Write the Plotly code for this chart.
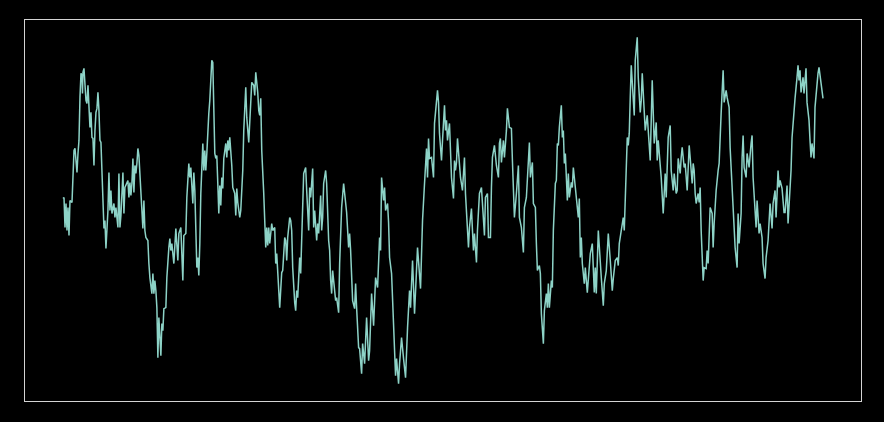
import plotly.graph_objects as go

# Sample positions (time steps) and values
steps = [
    0, 1, 2, 3, 4, 5, 6, 7, 9, 10, 11, 12, 13, 14, 15, 16, 17, 18, 19, 19.5, 20, 21, 23, 24, 25, 26, 27, 28, 29, 30,
    31, 32, 33, 34, 35, 36, 37, 38, 39, 41, 42, 43, 45, 46, 47, 48, 49, 51, 52, 53, 55, 56, 57, 58, 60, 61, 62, 64, 65, 66,
    67, 68, 69, 70, 71, 72, 73, 74, 75, 76, 77, 78, 80, 81, 82, 83, 85, 86, 87, 89, 90, 91, 92, 93, 94, 95, 96, 98, 99, 100,
    101, 103, 104, 106, 107, 108, 109, 111, 112, 113, 115, 116, 118, 120,
    121, 123, 124, 126, 127, 128, 130, 131, 132, 133, 134, 135, 136, 137, 138, 140, 141, 142, 143, 144, 145, 146, 147, 149, 150,
    151, 152, 153, 154, 155, 156, 157, 158, 159, 160, 161, 163, 164, 165, 166, 167, 169, 170, 172, 173, 174, 175, 177, 178, 180,
    181, 183, 184, 186, 187, 188, 189, 191, 192, 193, 195, 196, 197, 198, 199, 201, 203, 204, 205, 206, 207, 209, 210, 212, 213,
    214, 216, 217, 219, 220, 222, 223, 224, 225, 227, 228, 229, 230, 232, 233, 234, 235, 237, 238, 241, 243, 244, 246, 247,
    248, 250, 251, 252, 253, 254, 255, 256, 258, 259, 260, 261, 263, 264, 266, 267, 268, 269, 270, 271, 273, 274, 276, 277, 279,
    281, 283, 284, 286, 287, 288, 290, 292, 293, 294, 296, 297, 299, 300, 302, 304, 306, 307, 309, 311, 313, 315, 317, 318, 319,
    321, 322, 323, 325, 326, 327, 329, 331, 333, 334, 336, 337, 339, 341, 343, 345, 347, 348, 350, 352, 355, 358, 360, 362, 364,
    365, 366, 367, 369, 371, 372,
    375, 376, 377, 379, 380, 382, 383, 384, 385, 387, 388, 389, 391, 392, 393, 394, 395, 396, 398, 400, 402, 403, 405, 406, 407,
    409, 410, 411, 412, 414, 415, 417, 419, 420, 422, 423, 425, 426, 428, 429, 430, 432, 433, 434, 436, 437, 438, 439, 441, 442,
    444, 445, 447, 449, 450, 452, 454, 456, 457, 459, 461, 462, 464, 465, 467, 468, 470, 471, 473, 474, 475, 477, 478, 479, 481,
    482, 484, 485, 486, 487, 489, 490, 491, 493, 494, 495,
    496, 497, 499, 500, 501, 502, 503, 505, 506, 507, 509, 510, 511, 513, 514, 516, 517, 518, 519, 520, 522, 523, 525, 527, 528,
    530, 532, 533, 534, 536, 538, 539, 541, 542, 544, 545, 546, 548, 550, 551, 553, 555, 556, 557, 559, 561, 562, 563, 564, 565,
    566, 567, 568, 569, 572, 573, 575, 576, 578, 579, 580, 582, 583, 585, 586, 588, 590, 591, 592, 594, 595, 596, 598, 599, 601,
    603, 604, 605, 606, 608, 609, 611, 612, 614, 615, 616, 618, 619, 620,
    622, 623, 625, 626, 627, 628, 630, 631, 632, 633, 634, 636, 637, 638, 639, 641, 642, 644, 645, 646, 647, 648, 650, 651, 652,
    654, 656, 657, 659, 661, 662, 664, 665, 667, 668, 670, 673, 675, 676, 677, 679, 680, 681, 682, 684, 685, 687, 689, 690, 691,
    693, 694, 695, 697, 698, 700, 701, 703, 704, 706, 708, 710, 711, 713, 714, 716, 717, 718, 720, 722, 723, 725, 726, 728, 729,
    730, 732, 733, 735, 736, 737, 738, 739, 741, 742, 744, 745, 747, 748, 749, 750, 752, 753, 754, 756, 757, 759, 761,
]

values = [
    1.2, 1.3, -1.7, 0.7, -2.0, 0.3, -2.5, 1.0, 0.8, 2.7, 6.0, 6.2, 5.2, 3.8, 5.7, 7.0, 11.3, 13.7, 13.5, 11.7, 13.8, 14.2, 11.0, 10.7, 12.5, 10.7, 8.3, 9.8, 7.3, 7.2,
    4.5, 8.0, 9.8, 10.2, 11.8, 10.0, 7.0, 6.8, 3.7, -1.8, -1.0, -3.8, 0.0, 3.8, 0.0, 2.0, -0.3, 0.7, -0.7, 0.3, -1.7, 3.7, -1.7, -0.5, 3.8, -0.3, 2.3, 2.7, 3.0, 1.3,
    2.8, 1.5, 2.7, 5.2, 1.8, 4.5, 3.7, 4.7, 6.2, 5.5, 3.7, 2.7, -1.8, 1.0, -2.0, -2.7, -3.0, -5.3, -6.7, -8.3, -6.3, -8.3, -7.0, -8.0, -9.7, -14.7, -10.7, -14.5, -11.3, -12.0,
    -9.8, -9.7, -6.7, -3.7, -2.8, -4.0, -3.3, -5.3, -3.3, -1.8, -5.0, -2.3, -1.7, -7.0,
    -2.5, -2.3, 1.3, 4.7, 3.3, 4.3, 0.7, 3.8, 2.0, -2.7, -5.7, -4.7, -6.5, -3.3, 1.7, 6.7, 4.0, 6.0, 4.0, 5.7, 8.3, 9.7, 11.0, 15.0, 14.8,
    11.3, 5.7, 5.2, 5.5, 2.7, -0.3, 2.5, 0.5, 3.3, 2.2, 5.2, 6.7, 5.3, 7.0, 6.0, 7.3, 4.5, 2.3, 1.7, -0.5, 2.2, 0.8, -0.7, 0.0, 4.0,
    8.0, 12.3, 9.3, 6.8, 9.3, 11.5, 12.8, 12.5, 11.5, 13.8, 11.8, 10.0, 9.5, 11.2, 6.0, 1.7, -3.7, -1.7, -3.5, -1.7, -3.3, -1.3, -2.0, -1.7, -5.3,
    -4.3, -7.8, -9.7, -6.2, -6.0, -2.7, -3.0, -5.0, -2.7, -0.7, -1.0, -2.0, -5.7, -9.2, -10.0, -8.0, -8.7, -4.7, -6.3, 3.7, 4.3, 2.0, -2.0, 2.3,
    1.3, 4.2, -1.7, 0.0, -2.0, -3.0, -1.3, -2.3, 1.5, -2.0, -0.7, 2.7, 4.0, 2.7, -3.0, -4.0, -7.0, -8.3, -6.0, -7.3, -9.0, -8.7, -10.2, -5.3, 0.3,
    2.7, 0.3, -0.2, -3.7, -2.3, -4.0, -9.0, -9.8, -7.3, -9.7, -13.7, -13.8, -16.3, -13.3, -15.3, -10.7, -15.0, -14.0, -8.3, -11.5, -6.7, -7.7, -2.7, -4.0, 3.3,
    1.0, 2.3, 0.0, 0.7, -1.2, -4.7, -6.3, -12.0, -16.5, -14.8, -17.3, -15.3, -12.7, -14.8, -16.7, -11.7, -8.0, -9.7, -5.0, -10.3, -3.7, -7.8, -1.0, 2.7, 6.2,
    3.3, 7.2, 5.2, 5.3, 3.3, 8.7,
    12.0, 10.8, 7.7, 5.0, 7.0, 10.5, 8.0, 9.0, 7.0, 8.7, 6.0, 3.3, 1.2, 5.0, 4.0, 4.8, 7.2, 5.7, 3.3, 2.0, 5.3, 1.7, -2.0, -3.7, -1.7,
    0.2, -2.0, -4.0, -2.3, -5.2, -2.0, 1.7, 2.3, 0.7, -2.5, 1.3, 1.7, -2.7, -2.7, 2.3, 5.3, 6.5, 5.3, 4.5, 3.3, 6.7, 7.2, 4.8, 7.0, 5.3,
    8.0, 10.2, 8.3, 8.2, 5.0, -0.7, 1.7, 4.5, -0.7, -1.7, -4.2, 0.3, 1.3, 3.5, 6.8, 3.3, 4.8, 0.7, 0.3, -3.3, -6.0, -5.5, -6.3, -10.3, -13.3,
    -10.0, -8.3, -9.7, -7.3, -9.7, -7.0, -7.7, -2.0, 2.7, 3.0, 6.7,
    6.5, 8.3, 10.5, 7.3, 8.0, 4.7, 5.7, 1.0, 3.7, 1.3, 2.8, 2.3, 4.3, 2.3, 1.0, -0.7, 1.2, -4.7, -2.7, -5.3, -7.3, -5.7, -8.2, -5.3, -4.3,
    -3.3, -8.2, -5.7, -8.3, -2.0, -5.7, -6.7, -9.5, -7.3, -6.0, -3.5, -2.3, -5.0, -8.0, -6.8, -5.0, -4.7, -5.5, -3.3, -2.0, -0.7, -2.0, 1.7, 4.7, 7.3,
    6.5, 7.7, 11.3, 14.5, 9.5, 15.0, 17.3, 13.3, 9.8, 11.0, 13.7, 9.7, 8.0, 9.5, 8.0, 5.0, 13.0, 10.0, 6.7, 8.8, 5.0, 7.0, 4.7, 3.3, -0.3,
    3.7, 1.3, 5.0, 7.3, 8.5, 4.0, 2.0, 3.7, 1.7, 2.0, 5.2, 3.7, 5.3, 6.3,
    4.3, 4.7, 2.0, 4.7, 6.5, 5.3, 2.7, 4.7, 4.0, 1.7, 0.7, 1.7, 0.8, 2.3, -2.0, -7.0, -5.7, -5.8, -4.0, -5.3, -1.7, 0.3, -0.3, -3.7, -1.3,
    2.0, 4.0, 4.7, 9.7, 14.0, 10.8, 12.0, 11.3, 10.3, 6.3, 2.7, -3.7, -5.7, -0.3, -3.3, -0.3, 5.3, 7.5, 4.3, 3.3, 5.7, 4.3, 6.7, 7.5, 3.3,
    -0.3, -1.7, 1.0, -2.3, -1.3, -2.7, -5.3, -6.8, -4.7, -3.0, 0.7, -1.8, 0.7, 2.0, -0.7, 4.0, 2.3, 3.0, 2.2, -0.2, -0.2, 2.5, -1.3, 1.7, 4.0,
    7.3, 10.3, 11.2, 13.3, 14.5, 13.0, 14.0, 11.8, 13.3, 11.7, 14.2, 10.8, 9.0, 7.0, 5.3, 6.7, 5.2, 10.3, 11.7, 13.7, 14.3, 13.0, 11.2,
]

t_min, t_max = min(steps), max(steps)
v_min, v_max = min(values), max(values)
pad_t = 0.05 * (t_max - t_min)
pad_v = 0.05 * (v_max - v_min)

fig = go.Figure()
fig.add_trace(go.Scatter(
    x=steps, y=values, mode="lines",
    line=dict(color="#8dd3c7", width=1.5),
    hoverinfo="skip", showlegend=False,
))

axis_common = dict(
    showgrid=False, zeroline=False, showticklabels=False, ticks="",
    showline=True, mirror=True, linecolor="#d4d4d4", linewidth=1,
)
fig.update_xaxes(range=[t_min - pad_t, t_max + pad_t], **axis_common)
fig.update_yaxes(range=[v_min - pad_v, v_max + pad_v], **axis_common)

fig.update_layout(
    width=884, height=422,
    margin=dict(l=25, r=23, t=20, b=21),
    paper_bgcolor="#000000", plot_bgcolor="#000000",
)

fig.write_html(
    "out.html",
    config={"displayModeBar": False},
    post_script="document.body.style.margin='0';document.body.style.background='#000';"
                "document.documentElement.style.overflow='hidden';",
)
